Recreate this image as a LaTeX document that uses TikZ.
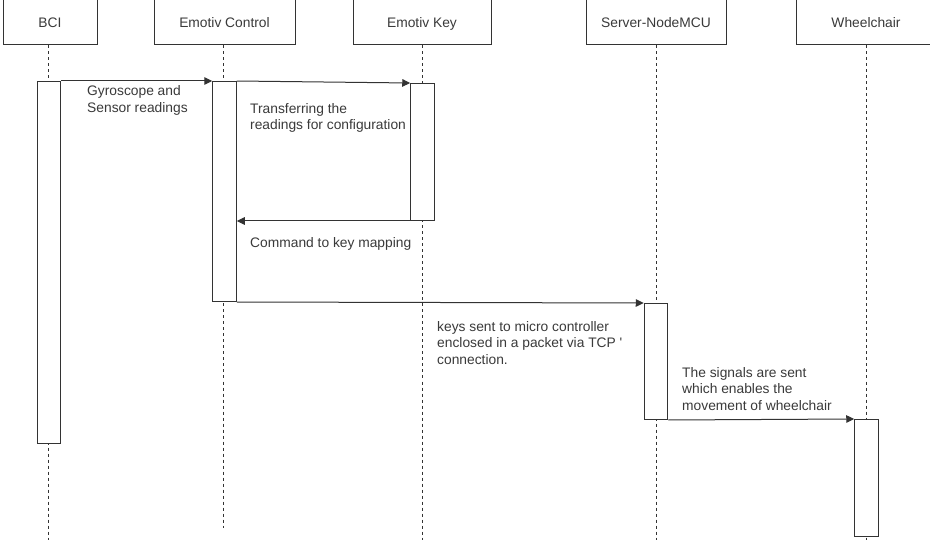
\documentclass[tikz,border=0pt]{standalone}
\usepackage{fontspec}
\setmainfont{Liberation Sans}
\usetikzlibrary{arrows.meta}
\definecolor{ln}{HTML}{333333}
\definecolor{tx}{HTML}{3A3A3A}
\begin{document}
\begin{tikzpicture}[x=1pt,y=-1pt,
 head/.style={draw=ln, line width=1pt, fill=white, minimum height=48pt, inner sep=0pt, text height=14pt, text depth=0pt, font=\fontsize{13.8}{16.5}\selectfont, text=tx},
 act/.style={draw=ln, line width=1pt, fill=white, minimum width=23.5pt, inner sep=0pt},
 life/.style={draw=ln, line width=0.9pt, dash pattern=on 3pt off 3pt},
 msg/.style={draw=ln, line width=1pt, -{Triangle[length=8pt,width=7.5pt]}},
 lbl/.style={align=left, inner sep=0pt, anchor=base west, font=\fontsize{13.8}{16.5}\selectfont, text=tx}]
\useasboundingbox[fill=white] (0,0) rectangle (930,540);
\clip (0,0) rectangle (930,540);
% headers
\node[head, minimum width=94pt]  (bci) at (50,21) {BCI};
\node[head, minimum width=141pt] (ctl) at (224.5,21) {Emotiv Control};
\node[head, minimum width=138pt] (key) at (422,21) {Emotiv Key};
\node[head, minimum width=140pt] (srv) at (656,21) {Server-NodeMCU};
\node[head, minimum width=140pt] (whl) at (866,21) {Wheelchair};
% lifeline ends
\coordinate (e1) at (48.5,540);
\coordinate (e2) at (223,528);
\coordinate (e3) at (422,540);
\coordinate (e4) at (656,540);
\coordinate (e5) at (866,540);
\draw[life] (e1 |- bci.south) -- (e1);
\draw[life] (e2 |- ctl.south) -- (e2);
\draw[life] (e3 |- key.south) -- (e3);
\draw[life] (e4 |- srv.south) -- (e4);
\draw[life] (e5 |- whl.south) -- (e5);
% activations
\node[act, minimum height=362pt, anchor=north] (a1) at (49,81) {};
\node[act, minimum height=220pt, anchor=north] (a2) at (224.5,81) {};
\node[act, minimum height=137pt, anchor=north] (a3) at (422.5,83) {};
\node[act, minimum height=116pt, anchor=north] (a4) at (656,303) {};
\node[act, minimum height=117pt, anchor=north] (a5) at (866.5,419) {};
% messages
\draw[msg] (a1.north east) -- (a2.north west);
\draw[msg] (a2.north east) -- (a3.north west);
\draw[msg] (a3.south west) -- (a3.south west -| a2.east);
\draw[msg] (a2.south east) -- (a4.north west);
\draw[msg] (a4.south east) -- (a5.north west);
% labels (base = baseline of last line)
\node[lbl] (l1) at (87,112.5) {Gyroscope and\\Sensor readings};
\node[lbl] (l2) at (250,130) {Transferring the\\readings for configuration};
\node[lbl] (l3) at (250,248) {Command to key mapping};
\node[lbl] (l4) at (437,364) {keys sent to micro controller\\enclosed in a packet via TCP \textquotesingle\\connection.};
\node[lbl] (l5) at (682,410) {The signals are sent\\which enables the\\movement of wheelchair};
\end{tikzpicture}
\end{document}
